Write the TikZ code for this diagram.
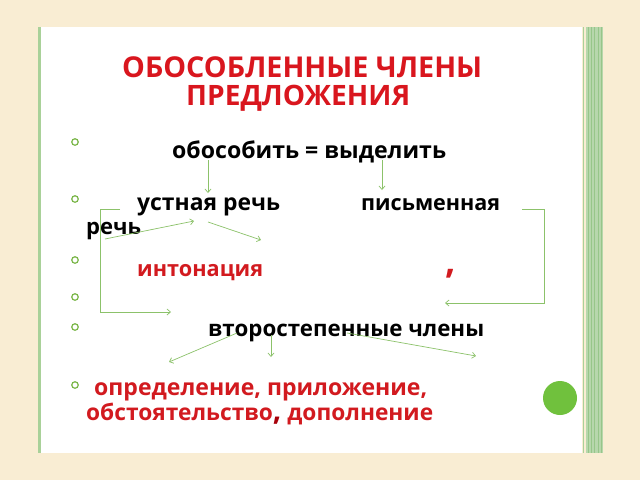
\documentclass[tikz,border=0pt]{standalone}
\usepackage{fontspec}
\setmainfont{Open Sans}
\usetikzlibrary{arrows.meta}
\definecolor{bg}{HTML}{F9EDD3}
\definecolor{panelgreen}{HTML}{A9D199}
\definecolor{bandgreen}{HTML}{B7D7AC}
\definecolor{stripegreen}{HTML}{97C689}
\definecolor{arrgreen}{HTML}{8CC26A}
\definecolor{bulgreen}{HTML}{7AB648}
\definecolor{dotgreen}{HTML}{70C13D}
\definecolor{titlered}{HTML}{D9161E}
\definecolor{textred}{HTML}{D21A1F}
\definecolor{darkred}{HTML}{A8000A}
\newcommand{\fitw}[2]{\resizebox{#1}{!}{#2}}
\tikzset{
  txt/.style={anchor=base west, inner sep=0pt, font=\bfseries, text=black},
  redtxt/.style={txt, text=textred},
  titletxt/.style={txt, text=titlered},
  conn/.style={draw=arrgreen, line width=0.7pt, -{Straight Barb[length=3.5pt,width=6pt]}},
  bullet/.style={circle, draw=bulgreen, line width=1.2pt, minimum size=6.5pt, inner sep=0pt},
}
\begin{document}
\begin{tikzpicture}[x=1pt,y=-1pt]
\useasboundingbox (0,0) rectangle (640,480);
\fill[bg] (0,0) rectangle (640,480);
% panel
\fill[white] (38,27) rectangle (582,453);
\fill[panelgreen] (38,27) rectangle (41,453);
\draw[panelgreen, line width=0.6pt] (583.5,27) -- (583.5,453);
\fill[bandgreen] (586,27) rectangle (603,453);
\foreach \xx in {588,591,594,598,601} \draw[stripegreen, line width=0.5pt] (\xx,27) -- (\xx,453);
% title
\node[titletxt] (t1) at (122,77) {\fitw{360pt}{ОБОСОБЛЕННЫЕ ЧЛЕНЫ}};
\node[titletxt] (t2) at (186,105) {\fitw{224pt}{ПРЕДЛОЖЕНИЯ}};
% bullets
\node[bullet] (b1) at (75,142) {};
\node[bullet] (b2) at (75,199) {};
\node[bullet] (b3) at (75,260) {};
\node[bullet] (b4) at (75,297) {};
\node[bullet] (b5) at (75,327) {};
\node[bullet] (b6) at (75,385) {};
% texts
\node[txt] (obos) at (172,158) {\fitw{274pt}{обособить = выделить}};
\node[txt] (ustn) at (137,210) {\fitw{143pt}{устная речь}};
\node[txt] (pism) at (361,210) {\fitw{139pt}{письменная}};
\node[txt] (rech) at (86,234) {\fitw{55pt}{речь}};
\node[redtxt] (inton) at (137,276) {\fitw{126pt}{интонация}};
\node[redtxt, font=\bfseries\fontsize{36}{36}\selectfont] (comma) at (445,273) {,};
\node[txt] (vtor) at (208,336) {\fitw{276pt}{второстепенные члены}};
\node[redtxt] (opr) at (94,395) {\fitw{333pt}{определение, приложение,}};
\node[redtxt] (obst) at (86,420) {\fitw{347pt}{обстоятельство{\color{darkred}\fontsize{13}{13}\selectfont,} дополнение}};
% green dot
\fill[dotgreen] (560,398) circle (17);
% connector end points
\coordinate (a1s) at (208,160); \coordinate (a1e) at (208,193);
\coordinate (a2s) at (382,160); \coordinate (a2e) at (382,190);
\coordinate (lb1) at (120,209); \coordinate (lb2) at (100,209);
\coordinate (lb3) at (100,312); \coordinate (lb4) at (171,312);
\coordinate (a4s) at (105,239); \coordinate (a4e) at (194,221);
\coordinate (a5s) at (208,222); \coordinate (a5e) at (261,240);
\coordinate (rb1) at (522,209); \coordinate (rb2) at (544,209);
\coordinate (rb3) at (544,303); \coordinate (rb4) at (445,303);
\coordinate (v0) at (237,333); \coordinate (v1) at (169,362);
\coordinate (w0) at (271,335); \coordinate (w1) at (271,357);
\coordinate (u0) at (347,333); \coordinate (u1) at (476,356);
% connectors
\draw[conn] (a1s) -- (a1e);
\draw[conn] (a2s) -- (a2e);
\draw[conn] (lb1) -- (lb2) -- (lb3) -- (lb4);
\draw[conn] (a4s) -- (a4e);
\draw[conn] (a5s) -- (a5e);
\draw[conn] (rb1) -- (rb2) -- (rb3) -- (rb4);
\draw[conn] (v0) -- (v1);
\draw[conn] (w0) -- (w1);
\draw[conn] (u0) -- (u1);
\end{tikzpicture}
\end{document}
